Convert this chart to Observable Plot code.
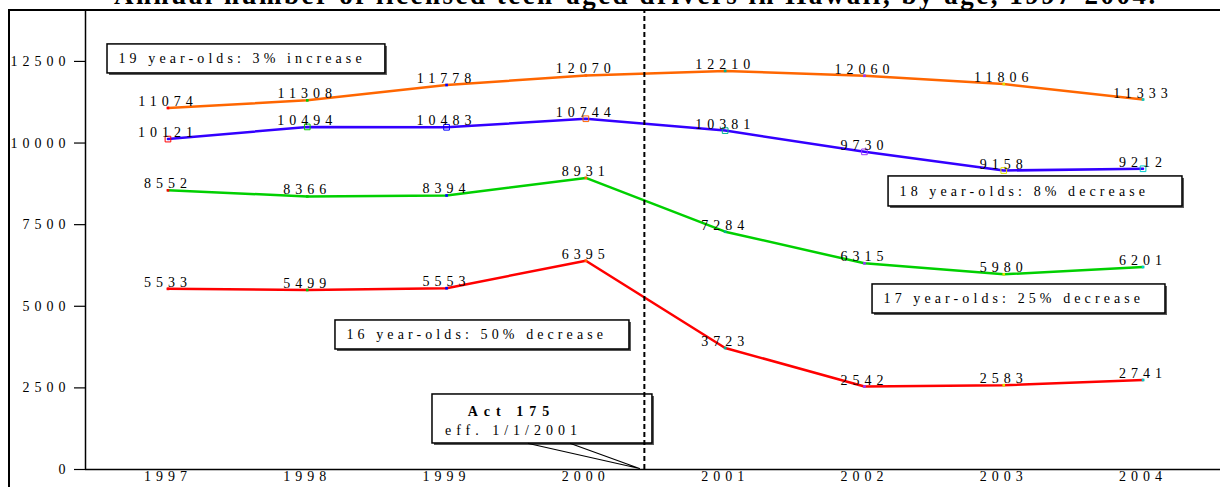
<!DOCTYPE html>
<html><head><meta charset="utf-8">
<script src="https://cdn.jsdelivr.net/npm/d3@7"></script>
<script src="https://cdn.jsdelivr.net/npm/@observablehq/plot@0.6"></script>
<style>
html,body{margin:0;padding:0;background:#fff;overflow:hidden;}
#wrap{position:relative;width:1220px;height:487px;overflow:hidden;background:#fff;}
#chart{position:absolute;left:0;top:0;}
#title{position:absolute;left:0;width:1272px;top:-18px;text-align:center;font-family:"Liberation Serif","Times New Roman",serif;font-weight:bold;font-size:27px;line-height:27px;white-space:nowrap;letter-spacing:2.5px;color:#000;}
#border{position:absolute;left:8px;top:9px;right:-10px;bottom:-10px;border-left:2px solid #000;border-top:2px solid #000;pointer-events:none;}
.boxlab text{letter-spacing:4.1px;}
.actlab text{letter-spacing:6px;}
</style></head><body>
<div id="wrap"><div id="chart"></div><div id="title">Annual number of licensed teen-aged drivers in Hawaii, by age, 1997-2004.</div><div id="border"></div></div>
<script>
const years = [1997, 1998, 1999, 2000, 2001, 2002, 2003, 2004];
const age19 = [11074, 11308, 11778, 12070, 12210, 12060, 11806, 11333];
const age18 = [10121, 10494, 10483, 10744, 10381, 9730, 9158, 9212];
const age17 = [8552, 8366, 8394, 8931, 7284, 6315, 5980, 6201];
const age16 = [5533, 5499, 5553, 6395, 3723, 2542, 2583, 2741];
const seriesNames = ["19 year-olds", "18 year-olds", "17 year-olds", "16 year-olds"];
const seriesColors = ["#ff6600", "#3300ff", "#00d000", "#ff0000"];
const markerColors = ["#ff0000", "#00cc00", "#0000ff", "#ff6600", "#00b38f", "#9933ff", "#e0e000", "#00cccc"];
const yTicks = [0, 2500, 5000, 7500, 10000, 12500];

// annotation boxes (data coordinates)
const boxLabels = ["19 year-olds: 3% increase", "18 year-olds: 8% decrease", "17 year-olds: 25% decrease", "16 year-olds: 50% decrease"];
const boxX1 = [1996.566, 2002.173, 2002.058, 1998.2025];
const boxX2 = [1998.561, 2004.283, 2004.161, 2000.313];
const boxY1 = [12132, 8057, 4779, 3676];
const boxY2 = [13021, 8977, 5668, 4565];

const actLines = ["Act 175", "eff. 1/1/2001"];
const actBox = {x1: 1998.899, x2: 2000.478, y1: 797, y2: 2298, tx: 1999.466, ty: [1777, 1195]};
const actPointer = [{x: 1999.588, y: 797}, {x: 2000.385, y: 31}, {x: 1999.890, y: 797}];
const actDate = 2000.42;

const xDomain = [1996.408, 2004.556];
const yDomain = [0, 14060];

const series = [age19, age18, age17, age16];
const rows = series.flatMap((vals, s) => vals.map((v, i) => ({year: years[i], value: v, s, idx: i})));
const boxes = boxLabels.map((label, i) => ({label, x1: boxX1[i], x2: boxX2[i], y1: boxY1[i], y2: boxY2[i]}));

const fam = "'Liberation Serif', 'Times New Roman', serif";

const chart = Plot.plot({
  width: 1220,
  height: 487,
  marginLeft: 85,
  marginRight: 0,
  marginTop: 10,
  marginBottom: 18,
  style: {fontFamily: fam, fontSize: "14px", letterSpacing: "5px", color: "#000", background: "transparent", overflow: "visible"},
  x: {domain: xDomain},
  y: {domain: yDomain},
  color: {type: "identity"},
  marks: [
    Plot.axisY(yTicks, {tickSize: 11, tickPadding: 4, tickFormat: d => String(d), label: null, stroke: "#000", strokeWidth: 1.2}),
    Plot.axisX(years, {tickSize: 0, tickPadding: 2, tickFormat: d => String(d), label: null}),
    Plot.ruleY([0], {stroke: "#000", strokeWidth: 1.5}),
    Plot.ruleX([xDomain[0]], {stroke: "#000", strokeWidth: 1.5}),
    // boxes
    Plot.rect(boxes, {x1: "x1", x2: "x2", y1: "y1", y2: "y2", fill: "#555", dx: 2, dy: 2}),
    Plot.rect(boxes, {x1: "x1", x2: "x2", y1: "y1", y2: "y2", fill: "#fff", stroke: "#000", strokeWidth: 1.5}),
    Plot.text(boxes, {x: "x1", y: d => (d.y1 + d.y2) / 2, text: "label", textAnchor: "start", dx: 11, className: "boxlab"}),
    // Act 175 callout
    Plot.rect([actBox], {x1: "x1", x2: "x2", y1: "y1", y2: "y2", fill: "#555", dx: 2, dy: 2}),
    Plot.rect([actBox], {x1: "x1", x2: "x2", y1: "y1", y2: "y2", fill: "#fff", stroke: "#000", strokeWidth: 1.5}),
    Plot.line(actPointer, {x: "x", y: "y", stroke: "#000", strokeWidth: 1.2}),
    Plot.text([actBox], {x: "tx", y: d => d.ty[0], text: () => actLines[0], fontWeight: "bold", fontSize: 14, className: "actlab"}),
    Plot.text([actBox], {x: "tx", y: d => d.ty[1], text: () => actLines[1], dx: 2}),
    // series lines
    Plot.line(rows, {x: "year", y: "value", z: "s", stroke: d => seriesColors[d.s], strokeWidth: 2.5}),
    Plot.dot(rows.filter(d => d.s !== 1), {x: "year", y: "value", symbol: "square", r: 1.5, fill: d => markerColors[d.idx]}),
    Plot.dot(rows.filter(d => d.s === 1), {x: "year", y: "value", symbol: "square", r: 3.2, fill: "none", stroke: d => markerColors[d.idx], strokeWidth: 1}),
    Plot.text(rows, {x: "year", y: "value", text: d => String(d.value), lineAnchor: "bottom", dy: -2}),
    // Act 175 date line
    Plot.ruleX([actDate], {y1: yDomain[0], y2: yDomain[1], stroke: "#000", strokeWidth: 2, strokeDasharray: "5,3"})
  ]
});
document.getElementById("chart").appendChild(chart);
</script>
</body></html>
